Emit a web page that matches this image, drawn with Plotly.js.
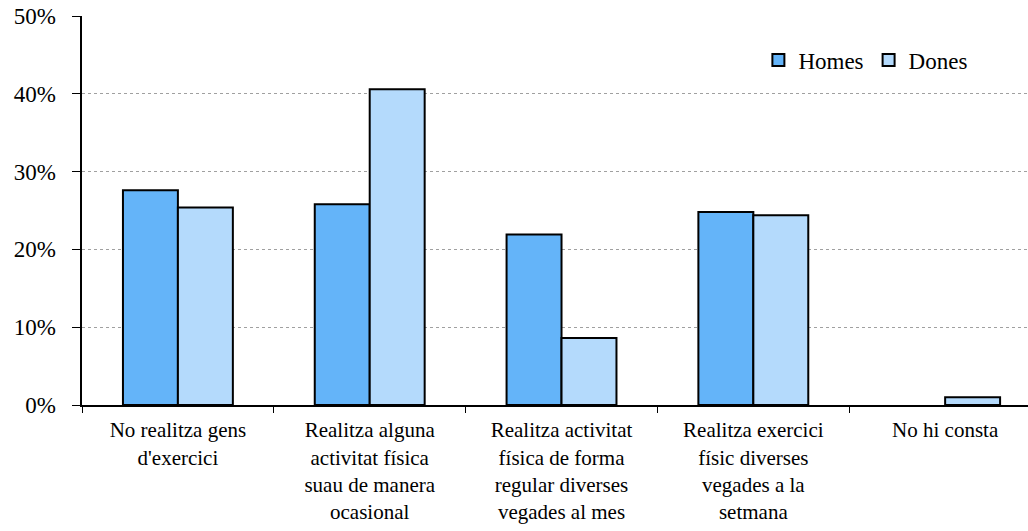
<!DOCTYPE html>
<html>
<head>
<meta charset="utf-8">
<script src="https://cdn.plot.ly/plotly-3.0.1.min.js"></script>
<style>html,body{margin:0;padding:0;background:#fff}#chart{width:1028px;height:531px}</style>
</head>
<body>
<div id="chart"></div>
<script>
const categories = [
  "No realitza gens<br>d'exercici",
  "Realitza alguna<br>activitat física<br>suau de manera<br>ocasional",
  "Realitza activitat<br>física de forma<br>regular diverses<br>vegades al mes",
  "Realitza exercici<br>físic diverses<br>vegades a la<br>setmana",
  "No hi consta"
];
const homes = [27.6, 25.8, 21.9, 24.8, 0];
const dones = [25.4, 40.6, 8.6, 24.4, 1.0];
const yTicks = [0, 10, 20, 30, 40, 50];
const yTickText = ["0%", "10%", "20%", "30%", "40%", "50%"];

const font = "Liberation Serif";
const pad = "\u00A0\u00A0";
const traces = [
  {type: 'bar', name: 'Homes', x: categories, y: homes,
   marker: {color: '#64B4F9', line: {color: '#000', width: homes.map(v => v > 0 ? 2 : 0)}}},
  {type: 'bar', name: 'Dones', x: categories, y: dones,
   marker: {color: '#B4DAFC', line: {color: '#000', width: 2}}}
];
const layout = {
  width: 1028, height: 531,
  margin: {l: 82, r: 0, t: 16, b: 125.5, pad: 0},
  paper_bgcolor: '#fff', plot_bgcolor: '#fff',
  font: {family: font, size: 22, color: '#000'},
  barmode: 'group', bargap: 0.427, bargroupgap: 0,
  showlegend: true,
  legend: {orientation: 'h', x: 0.715, y: 0.887, xanchor: 'left', yanchor: 'middle',
           font: {family: font, size: 23, color: '#000'}, itemwidth: 30, bgcolor: 'rgba(0,0,0,0)'},
  xaxis: {type: 'category', range: [-0.5, 4.432], showline: true, linecolor: '#000', linewidth: 2,
          ticks: 'outside', tickson: 'boundaries', ticklen: 6, tickcolor: '#000', tickwidth: 1,
          showgrid: false, fixedrange: true, ticklabelstandoff: 5,
          tickfont: {family: font, size: 21, color: '#000'}},
  yaxis: {range: [0, 50], tickmode: 'array', tickvals: yTicks, ticktext: yTickText.map(t => t + pad),
          showline: true, linecolor: '#000', linewidth: 2,
          ticks: 'outside', ticklen: 8, tickcolor: '#000', tickwidth: 1,
          showgrid: true, gridcolor: '#a0a0a0', gridwidth: 1, griddash: 'dot',
          zeroline: false, tickfont: {family: font, size: 23, color: '#000'}}
};
Plotly.newPlot('chart', traces, layout, {displayModeBar: false, staticPlot: true});
</script>
</body>
</html>
